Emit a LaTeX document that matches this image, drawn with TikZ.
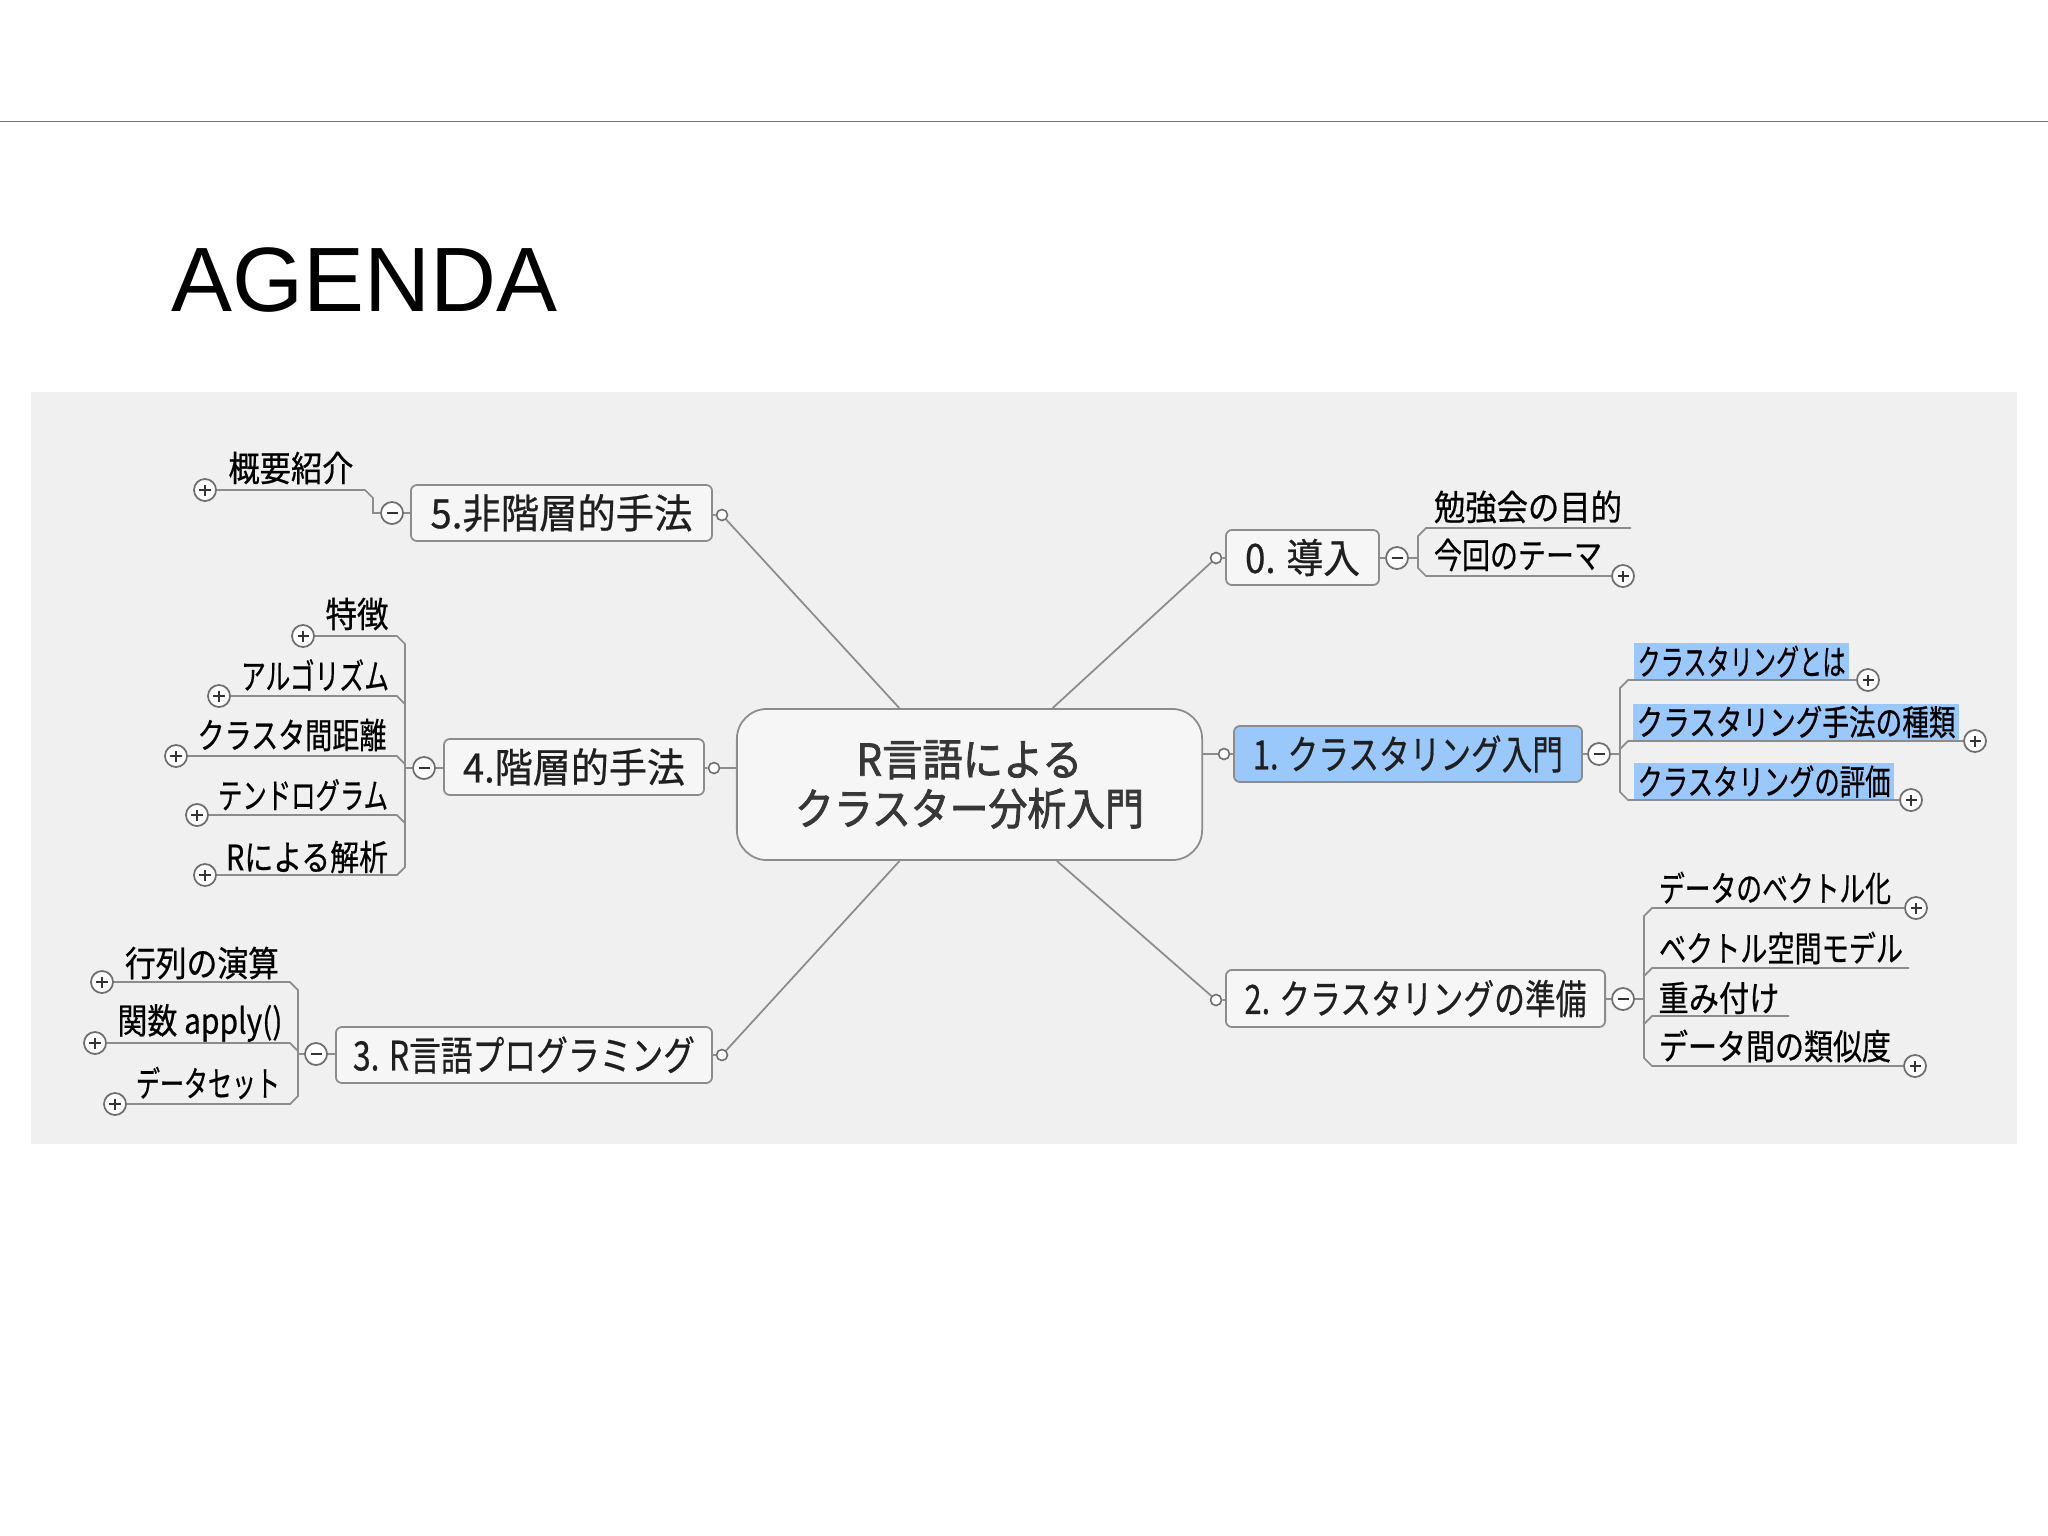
\documentclass[tikz,border=0pt]{standalone}
\usepackage{fontspec}
\usepackage{graphicx}
\setmainfont{Liberation Sans}
\newfontfamily\jp[FakeBold=0.6]{Noto Sans CJK JP}
\newfontfamily\jpb[FakeBold=1.8]{Noto Sans CJK JP}
\newlength\pxu
\setlength\pxu{0.01cm}
\newcommand\tw[2]{\resizebox{#1\pxu}{\height}{#2}}
\definecolor{panel}{RGB}{240,240,240}
\definecolor{boxfill}{RGB}{246,246,246}
\definecolor{boxdraw}{RGB}{140,140,140}
\definecolor{lncol}{RGB}{140,140,140}
\definecolor{circ}{RGB}{110,110,110}
\definecolor{hl}{RGB}{155,200,250}
\definecolor{topline}{RGB}{110,110,170}
\definecolor{ctext}{RGB}{55,55,55}
\tikzset{
  branchbox/.style={draw=boxdraw, fill=boxfill, rounded corners=0.06cm, line width=0.5pt, inner sep=0,
    font=\jp\fontsize{11.5}{13}\selectfont, text=black!88},
  centerbox/.style={draw=boxdraw, fill=boxfill, rounded corners=0.3cm, line width=0.5pt, inner sep=0,
    align=center, font=\jpb\fontsize{12.5}{14}\selectfont, text=ctext},
  dotc/.style={circle, draw=circ, fill=white, minimum size=0.11cm, inner sep=0, line width=0.45pt},
  pmc/.style={circle, draw=circ, fill=white, minimum size=0.22cm, inner sep=0, line width=0.5pt},
  minusc/.style={pmc, path picture={\draw[line width=0.75pt, black!80]
      ([xshift=-0.055cm]path picture bounding box.center) -- ([xshift=0.055cm]path picture bounding box.center);}},
  plusc/.style={pmc, path picture={\draw[line width=0.75pt, black!80]
      ([xshift=-0.055cm]path picture bounding box.center) -- ([xshift=0.055cm]path picture bounding box.center)
      ([yshift=-0.055cm]path picture bounding box.center) -- ([yshift=0.055cm]path picture bounding box.center);}},
  leaf/.style={inner sep=0, font=\jp\fontsize{10}{11}\selectfont, text=black},
  hlleaf/.style={leaf, fill=hl, inner xsep=0.035cm, minimum height=0.37cm},
  conn/.style={draw=lncol, line width=0.5pt},
}
\begin{document}
\begin{tikzpicture}[x=0.01cm, y=-0.01cm]
\fill[white] (0,0) rectangle (2048,1536);
\useasboundingbox (0,0) rectangle (2048,1536);
% header
\coordinate (tl) at (0,121.5);
\coordinate (tr) at (2048,121.5);
\draw[topline, line width=0.45pt] (tl) -- (tr);
\node[anchor=base west, inner sep=0, font=\fontsize{26}{30}\selectfont] (title) at (171,311) {AGENDA};
% panel
\fill[panel] (31,392) rectangle (2017,1144);

% center and branch boxes
\node[centerbox, minimum width=4.65cm, minimum height=1.51cm] (C) at (969.5,784.5)
  {\tw{226}{R言語による}\\[0.0cm]\tw{349}{クラスター分析入門}};
\node[branchbox, minimum width=3.01cm, minimum height=0.56cm] (B5) at (561.5,513) {\tw{262}{5.非階層的手法}};
\node[branchbox, minimum width=2.60cm, minimum height=0.56cm] (B4) at (574,767) {\tw{222}{4.階層的手法}};
\node[branchbox, minimum width=3.76cm, minimum height=0.56cm] (B3) at (524,1055) {\tw{342}{3. R言語プログラミング}};
\node[branchbox, minimum width=1.53cm, minimum height=0.55cm] (B0) at (1302.5,557.5) {\tw{115}{0. 導入}};
\node[branchbox, fill=hl, minimum width=3.48cm, minimum height=0.56cm] (B1) at (1408,754) {\tw{310}{1. クラスタリング入門}};
\node[branchbox, minimum width=3.79cm, minimum height=0.57cm] (B2) at (1415.5,998.5) {\tw{342}{2. クラスタリングの準備}};

% small connector dots
\node[dotc] (D5) at (722,515) {};
\node[dotc] (D4) at (714,768) {};
\node[dotc] (D3) at (722,1055) {};
\node[dotc] (D0) at (1216,558) {};
\node[dotc] (D1) at (1224,754) {};
\node[dotc] (D2) at (1216,1000) {};

% minus toggles
\node[minusc] (M5) at (392,513) {};
\node[minusc] (M4) at (424,768) {};
\node[minusc] (M3) at (316,1054) {};
\node[minusc] (M0) at (1397,558) {};
\node[minusc] (M1) at (1599,754) {};
\node[minusc] (M2) at (1623,999) {};

% plus toggles
\node[plusc] (P5a) at (205,490) {};
\node[plusc] (P4a) at (303,636) {};
\node[plusc] (P4b) at (219,696) {};
\node[plusc] (P4c) at (176,756) {};
\node[plusc] (P4d) at (197,815) {};
\node[plusc] (P4e) at (205,875) {};
\node[plusc] (P3a) at (102,982) {};
\node[plusc] (P3b) at (95,1043) {};
\node[plusc] (P3c) at (115,1104) {};
\node[plusc] (P0b) at (1623,576) {};
\node[plusc] (P1a) at (1868,680) {};
\node[plusc] (P1b) at (1975,741) {};
\node[plusc] (P1c) at (1911,800) {};
\node[plusc] (P2a) at (1916,908) {};
\node[plusc] (P2d) at (1915,1066) {};

% leaf texts
\node[leaf] (L5a) at (291,468) {\tw{125}{概要紹介}};
\node[leaf] (L4a) at (357,614) {\tw{63}{特徴}};
\node[leaf] (L4b) at (315,675) {\tw{148}{アルゴリズム}};
\node[leaf] (L4c) at (292,735) {\tw{189}{クラスタ間距離}};
\node[leaf] (L4d) at (303,795) {\tw{170}{テンドログラム}};
\node[leaf] (L4e) at (307,857) {\tw{162}{Rによる解析}};
\node[leaf] (L3a) at (202,963) {\tw{154}{行列の演算}};
\node[leaf] (L3b) at (200,1023) {\tw{165}{関数 apply()}};
\node[leaf] (L3c) at (208,1083) {\tw{144}{データセット}};
\node[leaf] (L0a) at (1528,507) {\tw{188}{勉強会の目的}};
\node[leaf] (L0b) at (1518,555) {\tw{168}{今回のテーマ}};
\node[hlleaf] (L1a) at (1741.5,661.5) {\tw{208}{クラスタリングとは}};
\node[hlleaf] (L1b) at (1796,722) {\tw{319}{クラスタリング手法の種類}};
\node[hlleaf] (L1c) at (1764,781.5) {\tw{253}{クラスタリングの評価}};
\node[leaf] (L2a) at (1775,888) {\tw{232}{データのベクトル化}};
\node[leaf] (L2b) at (1781,948) {\tw{244}{ベクトル空間モデル}};
\node[leaf] (L2c) at (1719,998) {\tw{121}{重み付け}};
\node[leaf] (L2d) at (1775,1046) {\tw{232}{データ間の類似度}};

% center connectors
\draw[conn] (D5) -- (C);
\draw[conn] (D0) -- (C);
\draw[conn] (D3) -- (C);
\draw[conn] (D2) -- (C);
\draw[conn] (D4) -- (D4 -| C.west);
\draw[conn] (D1) -- (D1 -| C.east);
% dots to boxes, minus to boxes
\draw[conn] (D5) -- (B5);
\draw[conn] (D4) -- (B4);
\draw[conn] (D3) -- (B3);
\draw[conn] (D0) -- (B0);
\draw[conn] (D1) -- (B1);
\draw[conn] (D2) -- (B2);
\draw[conn] (M5) -- (B5);
\draw[conn] (M4) -- (B4);
\draw[conn] (M3) -- (B3);
\draw[conn] (M0) -- (B0);
\draw[conn] (M1) -- (B1);
\draw[conn] (M2) -- (B2);

% brackets and underlines
% node 5
\draw[conn] (P5a.east) -- (365,490) -- (373,498) -- (373,513) -- (M5.west);
% node 4
\coordinate (K4) at (405,768);
\draw[conn] (P4a.east) -- (397,636) -- (405,644) -- (405,867) -- (397,875) -- (P4e.east);
\draw[conn] (P4b.east) -- (397,696) -- (405,704);
\draw[conn] (P4c.east) -- (397,756) -- (405,764);
\draw[conn] (P4d.east) -- (397,815) -- (405,823);
\draw[conn] (K4) -- (M4.west);
% node 3
\coordinate (K3) at (298,1054);
\draw[conn] (P3a.east) -- (290,982) -- (298,990) -- (298,1096) -- (290,1104) -- (P3c.east);
\draw[conn] (P3b.east) -- (290,1043) -- (298,1051);
\draw[conn] (K3) -- (M3.west);
% node 0
\coordinate (E0a) at (1631,528);
\coordinate (K0) at (1418,558);
\draw[conn] (E0a) -- (1426,528) -- (1418,536) -- (1418,568) -- (1426,576) -- (P0b.west);
\draw[conn] (M0.east) -- (K0);
% node 1
\coordinate (K1) at (1620,754);
\draw[conn] (P1a.west) -- (1628,680) -- (1620,688) -- (1620,792) -- (1628,800) -- (P1c.west);
\draw[conn] (P1b.west) -- (1628,741) -- (1620,749);
\draw[conn] (M1.east) -- (K1);
% node 2
\coordinate (K2) at (1644,999);
\coordinate (E2b) at (1909,968);
\coordinate (E2c) at (1789,1016);
\draw[conn] (P2a.west) -- (1652,908) -- (1644,916) -- (1644,1058) -- (1652,1066) -- (P2d.west);
\draw[conn] (E2b) -- (1652,968) -- (1644,976);
\draw[conn] (E2c) -- (1652,1016) -- (1644,1024);
\draw[conn] (M2.east) -- (K2);
\end{tikzpicture}
\end{document}
